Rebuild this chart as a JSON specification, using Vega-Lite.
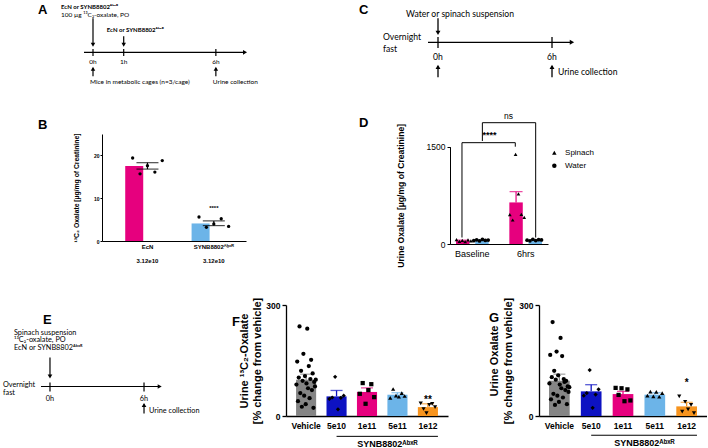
{
"$schema":"https://vega.github.io/schema/vega-lite/v6.json",
"background":"white",
"padding":{"left":2,"top":0,"right":0,"bottom":0},
"config":{
 "view":{"stroke":null},
 "font":"Liberation Sans",
 "axis":{"domainColor":"black","tickColor":"black","labelColor":"black","titleColor":"black","grid":false,"labelFont":"Liberation Sans","titleFont":"Liberation Sans"},
 "title":{"anchor":"start","frame":"group","fontSize":13,"fontWeight":"bold","font":"Liberation Sans","baseline":"alphabetic","color":"black"},
 "text":{"color":"black","font":"Liberation Sans"}
},
"datasets":{
 "A_line":[{"t":-0.2049,"t2":7.9}],
 "A_hours":[{"t":0,"hour":"0h"},{"t":1,"hour":"1h"},{"t":6,"hour":"6h"}],
 "A_doses":[{"t":0,"strain":"EcN or SYNB8802ᴬᵇˣᴿ","substrate":"100 µg ¹³C₂-oxalate, PO"},{"t":1,"strain":"EcN or SYNB8802ᴬᵇˣᴿ","substrate":""}],
 "A_events":[{"t":0,"event":"Mice in metabolic cages (n=3/cage)"},{"t":6,"event":"Urine collection"}],
 "C_line":[{"t":-0.5263,"t2":7.05}],
 "C_hours":[{"t":0,"hour":"0h"},{"t":6,"hour":"6h"}],
 "C_dose":[{"t":0,"dose":"Water or spinach suspension","before":"Overnight\nfast"}],
 "C_events":[{"t":0,"event":""},{"t":6,"event":"Urine collection"}],
 "E_line":[{"t":-0.574,"t2":7.0}],
 "E_hours":[{"t":0,"hour":"0h"},{"t":6,"hour":"6h"}],
 "E_dose":[{"t":0,"dose":"Spinach suspension\n¹³C₂-oxalate, PO\nEcN or SYNB8802ᴬᵇˣᴿ","before":"Overnight\nfast"}],
 "E_events":[{"t":6,"event":"Urine collection"}],
 "B_summary":[{"strain":"EcN","mean":17.5,"lower":16.8,"upper":18.3},{"strain":"SYNB8802ᴬᵇˣᴿ","mean":4.1,"lower":3.6,"upper":4.7}],
 "B_points":[
  {"strain":"EcN","mouse":1,"value":19.4},{"strain":"EcN","mouse":2,"value":15.7},{"strain":"EcN","mouse":3,"value":17.6},{"strain":"EcN","mouse":4,"value":16.1},{"strain":"EcN","mouse":5,"value":18.8},
  {"strain":"SYNB8802ᴬᵇˣᴿ","mouse":1,"value":5.6},{"strain":"SYNB8802ᴬᵇˣᴿ","mouse":2,"value":3.2},{"strain":"SYNB8802ᴬᵇˣᴿ","mouse":3,"value":4.0},{"strain":"SYNB8802ᴬᵇˣᴿ","mouse":4,"value":5.2},{"strain":"SYNB8802ᴬᵇˣᴿ","mouse":5,"value":3.4}],
 "B_sig":[{"strain":"SYNB8802ᴬᵇˣᴿ","label":"****"}],
 "D_summary":[{"time":"Baseline","treatment":"Spinach","mean":52,"upper":60},{"time":"Baseline","treatment":"Water","mean":58,"upper":62},{"time":"6hrs","treatment":"Spinach","mean":641,"upper":806},{"time":"6hrs","treatment":"Water","mean":60,"upper":64}],
 "D_points":[
  {"time":"Baseline","treatment":"Spinach","mouse":"S1","value":68},{"time":"Baseline","treatment":"Spinach","mouse":"S2","value":42},{"time":"Baseline","treatment":"Spinach","mouse":"S3","value":55},{"time":"Baseline","treatment":"Spinach","mouse":"S4","value":38},{"time":"Baseline","treatment":"Spinach","mouse":"S5","value":62},{"time":"Baseline","treatment":"Spinach","mouse":"S6","value":48},
  {"time":"Baseline","treatment":"Water","mouse":"W1","value":52},{"time":"Baseline","treatment":"Water","mouse":"W2","value":65},{"time":"Baseline","treatment":"Water","mouse":"W3","value":48},{"time":"Baseline","treatment":"Water","mouse":"W4","value":70},{"time":"Baseline","treatment":"Water","mouse":"W5","value":55},{"time":"Baseline","treatment":"Water","mouse":"W6","value":60},
  {"time":"6hrs","treatment":"Spinach","mouse":"S1","value":452},{"time":"6hrs","treatment":"Spinach","mouse":"S2","value":370},{"time":"6hrs","treatment":"Spinach","mouse":"S3","value":1383},{"time":"6hrs","treatment":"Spinach","mouse":"S4","value":771},{"time":"6hrs","treatment":"Spinach","mouse":"S5","value":458},{"time":"6hrs","treatment":"Spinach","mouse":"S6","value":411},
  {"time":"6hrs","treatment":"Water","mouse":"W1","value":58},{"time":"6hrs","treatment":"Water","mouse":"W2","value":49},{"time":"6hrs","treatment":"Water","mouse":"W3","value":72},{"time":"6hrs","treatment":"Water","mouse":"W4","value":53},{"time":"6hrs","treatment":"Water","mouse":"W5","value":66},{"time":"6hrs","treatment":"Water","mouse":"W6","value":62}],
 "D_star":[{"time":"Baseline","y":100,"k":1},{"time":"Baseline","y":1562,"k":2},{"time":"6hrs","y":1562,"k":3},{"time":"6hrs","y":1500,"k":4}],
 "D_ns":[{"time":"Baseline","y":1588,"k":1},{"time":"Baseline","y":1870,"k":2},{"time":"6hrs","y":1870,"k":3},{"time":"6hrs","y":100,"k":4}],
 "D_sig_star":[{"time":"Baseline","label":"****"}],
 "D_sig_ns":[{"time":"6hrs","label":"ns"}],
 "D_legend":[{"treatment":"Spinach"},{"treatment":"Water"}],
 "F_summary":[{"group":"Vehicle","mean":98,"upper":113},{"group":"5e10","mean":53,"upper":69},{"group":"1e11","mean":65,"upper":76},{"group":"5e11","mean":57.5,"upper":63},{"group":"1e12","mean":24,"upper":33}],
 "F_points":[
  {"group":"Vehicle","rep":1,"value":85},{"group":"Vehicle","rep":2,"value":147},{"group":"Vehicle","rep":3,"value":40},{"group":"Vehicle","rep":4,"value":104},{"group":"Vehicle","rep":5,"value":242},{"group":"Vehicle","rep":6,"value":62},{"group":"Vehicle","rep":7,"value":122},{"group":"Vehicle","rep":8,"value":25},{"group":"Vehicle","rep":9,"value":95},{"group":"Vehicle","rep":10,"value":168},{"group":"Vehicle","rep":11,"value":55},{"group":"Vehicle","rep":12,"value":108},{"group":"Vehicle","rep":13,"value":32},{"group":"Vehicle","rep":14,"value":88},{"group":"Vehicle","rep":15,"value":236},{"group":"Vehicle","rep":16,"value":75},{"group":"Vehicle","rep":17,"value":135},{"group":"Vehicle","rep":18,"value":48},{"group":"Vehicle","rep":19,"value":100},{"group":"Vehicle","rep":20,"value":152},{"group":"Vehicle","rep":21,"value":70},{"group":"Vehicle","rep":22,"value":115},{"group":"Vehicle","rep":23,"value":22},{"group":"Vehicle","rep":24,"value":92},{"group":"Vehicle","rep":25,"value":80},{"group":"Vehicle","rep":26,"value":98},
  {"group":"5e10","rep":1,"value":46},{"group":"5e10","rep":2,"value":50},{"group":"5e10","rep":3,"value":106},{"group":"5e10","rep":4,"value":18},{"group":"5e10","rep":5,"value":49},{"group":"5e10","rep":6,"value":55},
  {"group":"1e11","rep":1,"value":60},{"group":"1e11","rep":2,"value":89},{"group":"1e11","rep":3,"value":33},{"group":"1e11","rep":4,"value":70},{"group":"1e11","rep":5,"value":86},{"group":"1e11","rep":6,"value":51},
  {"group":"5e11","rep":1,"value":49},{"group":"5e11","rep":2,"value":73},{"group":"5e11","rep":3,"value":55},{"group":"5e11","rep":4,"value":52},{"group":"5e11","rep":5,"value":62},{"group":"5e11","rep":6,"value":54},
  {"group":"1e12","rep":1,"value":34},{"group":"1e12","rep":2,"value":19},{"group":"1e12","rep":3,"value":8},{"group":"1e12","rep":4,"value":30},{"group":"1e12","rep":5,"value":33},{"group":"1e12","rep":6,"value":24}],
 "F_sig":[{"group":"1e12","label":"**"}],
 "G_summary":[{"group":"Vehicle","mean":95.4,"upper":113},{"group":"5e10","mean":66.6,"upper":84.6},{"group":"1e11","mean":59.3,"upper":66.6},{"group":"5e11","mean":57.7,"upper":63},{"group":"1e12","mean":26,"upper":37}],
 "G_points":[
  {"group":"Vehicle","rep":1,"value":88},{"group":"Vehicle","rep":2,"value":165},{"group":"Vehicle","rep":3,"value":45},{"group":"Vehicle","rep":4,"value":105},{"group":"Vehicle","rep":5,"value":254},{"group":"Vehicle","rep":6,"value":60},{"group":"Vehicle","rep":7,"value":122},{"group":"Vehicle","rep":8,"value":30},{"group":"Vehicle","rep":9,"value":98},{"group":"Vehicle","rep":10,"value":174},{"group":"Vehicle","rep":11,"value":55},{"group":"Vehicle","rep":12,"value":110},{"group":"Vehicle","rep":13,"value":38},{"group":"Vehicle","rep":14,"value":85},{"group":"Vehicle","rep":15,"value":211},{"group":"Vehicle","rep":16,"value":75},{"group":"Vehicle","rep":17,"value":162},{"group":"Vehicle","rep":18,"value":50},{"group":"Vehicle","rep":19,"value":100},{"group":"Vehicle","rep":20,"value":92},{"group":"Vehicle","rep":21,"value":70},{"group":"Vehicle","rep":22,"value":95},{"group":"Vehicle","rep":23,"value":32},{"group":"Vehicle","rep":24,"value":80},{"group":"Vehicle","rep":25,"value":65},{"group":"Vehicle","rep":26,"value":78},
  {"group":"5e10","rep":1,"value":55},{"group":"5e10","rep":2,"value":62},{"group":"5e10","rep":3,"value":124},{"group":"5e10","rep":4,"value":22},{"group":"5e10","rep":5,"value":58},{"group":"5e10","rep":6,"value":72},
  {"group":"1e11","rep":1,"value":76},{"group":"1e11","rep":2,"value":57},{"group":"1e11","rep":3,"value":75},{"group":"1e11","rep":4,"value":40},{"group":"1e11","rep":5,"value":72},{"group":"1e11","rep":6,"value":42},
  {"group":"5e11","rep":1,"value":55},{"group":"5e11","rep":2,"value":66},{"group":"5e11","rep":3,"value":53},{"group":"5e11","rep":4,"value":65},{"group":"5e11","rep":5,"value":52},{"group":"5e11","rep":6,"value":62},
  {"group":"1e12","rep":1,"value":53},{"group":"1e12","rep":2,"value":12},{"group":"1e12","rep":3,"value":38},{"group":"1e12","rep":4,"value":18},{"group":"1e12","rep":5,"value":30},{"group":"1e12","rep":6,"value":8}],
 "G_sig":[{"group":"1e12","label":"*"}],
 "SYN":[{"label":"SYNB8802ᴬᵇˣᴿ"}]
},
"resolve":{"scale":{"color":"independent","shape":"independent","xOffset":"independent"},"legend":{"color":"independent","shape":"independent"}},
"vconcat":[
 {"resolve":{"scale":{"color":"independent","shape":"independent","xOffset":"independent"},"legend":{"color":"independent","shape":"independent"}},
  "vconcat":[
  {"resolve":{"scale":{"color":"independent","shape":"independent","xOffset":"independent"},"legend":{"color":"independent","shape":"independent"}},
   "hconcat":[
   {"title":{"text":"A","dx":-64,"offset":-17},
    "width":144,"height":90,
    "layer":[
     {"data":{"name":"A_line"},"mark":{"type":"rule","strokeWidth":1.2,"color":"black"},"encoding":{"x":{"field":"t","type":"quantitative","scale":{"type":"pow","exponent":0.774,"domain":[0.2049,7.966],"nice":false,"zero":false},"axis":null},"x2":{"field":"t2"},"y":{"datum":0,"type":"quantitative","scale":{"domain":[-37.7,52.3],"nice":false,"zero":false},"axis":null}}},
     {"data":{"name":"A_line"},"mark":{"type":"point","shape":"triangle-right","filled":true,"opacity":1,"size":22,"color":"black"},"encoding":{"x":{"field":"t2","type":"quantitative","scale":{"type":"pow","exponent":0.774,"domain":[0.2049,7.966],"nice":false,"zero":false},"axis":null},"y":{"datum":0,"type":"quantitative","scale":{"domain":[-37.7,52.3],"nice":false,"zero":false},"axis":null}}},
     {"data":{"name":"A_hours"},"mark":{"type":"rule","strokeWidth":1.2,"color":"black"},"encoding":{"x":{"field":"t","type":"quantitative","scale":{"type":"pow","exponent":0.774,"domain":[0.2049,7.966],"nice":false,"zero":false},"axis":null},"y":{"datum":3.3,"type":"quantitative","scale":{"domain":[-37.7,52.3],"nice":false,"zero":false},"axis":null},"y2":{"datum":-3.7}}},
     {"data":{"name":"A_hours"},"mark":{"type":"text","font":"Lato","fontSize":6.5,"align":"center","baseline":"middle"},"encoding":{"x":{"field":"t","type":"quantitative","scale":{"type":"pow","exponent":0.774,"domain":[0.2049,7.966],"nice":false,"zero":false},"axis":null},"y":{"datum":-10,"type":"quantitative","scale":{"domain":[-37.7,52.3],"nice":false,"zero":false},"axis":null},"text":{"field":"hour"}}},
     {"data":{"name":"A_doses"},"transform":[{"filter":"datum.t == 0"}],"mark":{"type":"text","font":"Lato","fontSize":6,"fontWeight":"bold","align":"left","baseline":"middle","dx":-32},"encoding":{"x":{"field":"t","type":"quantitative","scale":{"type":"pow","exponent":0.774,"domain":[0.2049,7.966],"nice":false,"zero":false},"axis":null},"y":{"datum":45.5,"type":"quantitative","scale":{"domain":[-37.7,52.3],"nice":false,"zero":false},"axis":null},"text":{"field":"strain"}}},
     {"data":{"name":"A_doses"},"transform":[{"filter":"datum.t == 0"}],"mark":{"type":"text","font":"Lato","fontSize":6.5,"align":"left","baseline":"middle","dx":-32},"encoding":{"x":{"field":"t","type":"quantitative","scale":{"type":"pow","exponent":0.774,"domain":[0.2049,7.966],"nice":false,"zero":false},"axis":null},"y":{"datum":37.5,"type":"quantitative","scale":{"domain":[-37.7,52.3],"nice":false,"zero":false},"axis":null},"text":{"field":"substrate"}}},
     {"data":{"name":"A_doses"},"transform":[{"filter":"datum.t == 1"}],"mark":{"type":"text","font":"Lato","fontSize":6,"fontWeight":"bold","align":"left","baseline":"middle","dx":-17},"encoding":{"x":{"field":"t","type":"quantitative","scale":{"type":"pow","exponent":0.774,"domain":[0.2049,7.966],"nice":false,"zero":false},"axis":null},"y":{"datum":22,"type":"quantitative","scale":{"domain":[-37.7,52.3],"nice":false,"zero":false},"axis":null},"text":{"field":"strain"}}},
     {"data":{"name":"A_doses"},"transform":[{"filter":"datum.t == 0"}],"mark":{"type":"rule","strokeWidth":1.2,"color":"black"},"encoding":{"x":{"field":"t","type":"quantitative","scale":{"type":"pow","exponent":0.774,"domain":[0.2049,7.966],"nice":false,"zero":false},"axis":null},"y":{"datum":34,"type":"quantitative","scale":{"domain":[-37.7,52.3],"nice":false,"zero":false},"axis":null},"y2":{"datum":8}}},
     {"data":{"name":"A_doses"},"transform":[{"filter":"datum.t == 1"}],"mark":{"type":"rule","strokeWidth":1.2,"color":"black"},"encoding":{"x":{"field":"t","type":"quantitative","scale":{"type":"pow","exponent":0.774,"domain":[0.2049,7.966],"nice":false,"zero":false},"axis":null},"y":{"datum":16,"type":"quantitative","scale":{"domain":[-37.7,52.3],"nice":false,"zero":false},"axis":null},"y2":{"datum":8}}},
     {"data":{"name":"A_doses"},"mark":{"type":"point","shape":"triangle-down","filled":true,"opacity":1,"size":20,"color":"black"},"encoding":{"x":{"field":"t","type":"quantitative","scale":{"type":"pow","exponent":0.774,"domain":[0.2049,7.966],"nice":false,"zero":false},"axis":null},"y":{"datum":7.5,"type":"quantitative","scale":{"domain":[-37.7,52.3],"nice":false,"zero":false},"axis":null}}},
     {"data":{"name":"A_events"},"mark":{"type":"rule","strokeWidth":1.2,"color":"black"},"encoding":{"x":{"field":"t","type":"quantitative","scale":{"type":"pow","exponent":0.774,"domain":[0.2049,7.966],"nice":false,"zero":false},"axis":null},"y":{"datum":-16,"type":"quantitative","scale":{"domain":[-37.7,52.3],"nice":false,"zero":false},"axis":null},"y2":{"datum":-24}}},
     {"data":{"name":"A_events"},"mark":{"type":"point","shape":"triangle-up","filled":true,"opacity":1,"size":20,"color":"black"},"encoding":{"x":{"field":"t","type":"quantitative","scale":{"type":"pow","exponent":0.774,"domain":[0.2049,7.966],"nice":false,"zero":false},"axis":null},"y":{"datum":-16.5,"type":"quantitative","scale":{"domain":[-37.7,52.3],"nice":false,"zero":false},"axis":null}}},
     {"data":{"name":"A_events"},"mark":{"type":"text","font":"Lato","fontSize":6.5,"align":"left","baseline":"middle","dx":-3},"encoding":{"x":{"field":"t","type":"quantitative","scale":{"type":"pow","exponent":0.774,"domain":[0.2049,7.966],"nice":false,"zero":false},"axis":null},"y":{"datum":-30,"type":"quantitative","scale":{"domain":[-37.7,52.3],"nice":false,"zero":false},"axis":null},"text":{"field":"event"}}}
    ]},
   {"title":{"text":"C","dx":-69,"offset":-17},
    "width":153,"height":90,
    "layer":[
     {"data":{"name":"C_line"},"mark":{"type":"rule","strokeWidth":1.3,"color":"black"},"encoding":{"x":{"field":"t","type":"quantitative","scale":{"domain":[-0.5263,7.526],"nice":false,"zero":false},"axis":null},"x2":{"field":"t2"},"y":{"datum":0,"type":"quantitative","scale":{"domain":[-47.7,42.3],"nice":false,"zero":false},"axis":null}}},
     {"data":{"name":"C_line"},"mark":{"type":"point","shape":"triangle-right","filled":true,"opacity":1,"size":26,"color":"black"},"encoding":{"x":{"field":"t2","type":"quantitative","scale":{"domain":[-0.5263,7.526],"nice":false,"zero":false},"axis":null},"y":{"datum":0,"type":"quantitative","scale":{"domain":[-47.7,42.3],"nice":false,"zero":false},"axis":null}}},
     {"data":{"name":"C_hours"},"mark":{"type":"rule","strokeWidth":1.3,"color":"black"},"encoding":{"x":{"field":"t","type":"quantitative","scale":{"domain":[-0.5263,7.526],"nice":false,"zero":false},"axis":null},"y":{"datum":5.3,"type":"quantitative","scale":{"domain":[-47.7,42.3],"nice":false,"zero":false},"axis":null},"y2":{"datum":-5.7}}},
     {"data":{"name":"C_hours"},"mark":{"type":"text","font":"Lato","fontSize":8.6,"align":"center","baseline":"middle"},"encoding":{"x":{"field":"t","type":"quantitative","scale":{"domain":[-0.5263,7.526],"nice":false,"zero":false},"axis":null},"y":{"datum":-15,"type":"quantitative","scale":{"domain":[-47.7,42.3],"nice":false,"zero":false},"axis":null},"text":{"field":"hour"}}},
     {"data":{"name":"C_dose"},"mark":{"type":"text","font":"Lato","fontSize":8.6,"align":"left","baseline":"middle","dx":-32},"encoding":{"x":{"field":"t","type":"quantitative","scale":{"domain":[-0.5263,7.526],"nice":false,"zero":false},"axis":null},"y":{"datum":28,"type":"quantitative","scale":{"domain":[-47.7,42.3],"nice":false,"zero":false},"axis":null},"text":{"field":"dose"}}},
     {"data":{"name":"C_dose"},"mark":{"type":"text","font":"Lato","fontSize":8.6,"align":"left","baseline":"alphabetic","lineBreak":"\n","lineHeight":12,"dx":-55},"encoding":{"x":{"field":"t","type":"quantitative","scale":{"domain":[-0.5263,7.526],"nice":false,"zero":false},"axis":null},"y":{"datum":2.8,"type":"quantitative","scale":{"domain":[-47.7,42.3],"nice":false,"zero":false},"axis":null},"text":{"field":"before"}}},
     {"data":{"name":"C_dose"},"mark":{"type":"rule","strokeWidth":1.3,"color":"black"},"encoding":{"x":{"field":"t","type":"quantitative","scale":{"domain":[-0.5263,7.526],"nice":false,"zero":false},"axis":null},"y":{"datum":24,"type":"quantitative","scale":{"domain":[-47.7,42.3],"nice":false,"zero":false},"axis":null},"y2":{"datum":10}}},
     {"data":{"name":"C_dose"},"mark":{"type":"point","shape":"triangle-down","filled":true,"opacity":1,"size":24,"color":"black"},"encoding":{"x":{"field":"t","type":"quantitative","scale":{"domain":[-0.5263,7.526],"nice":false,"zero":false},"axis":null},"y":{"datum":9.5,"type":"quantitative","scale":{"domain":[-47.7,42.3],"nice":false,"zero":false},"axis":null}}},
     {"data":{"name":"C_events"},"mark":{"type":"rule","strokeWidth":1.3,"color":"black"},"encoding":{"x":{"field":"t","type":"quantitative","scale":{"domain":[-0.5263,7.526],"nice":false,"zero":false},"axis":null},"y":{"datum":-24,"type":"quantitative","scale":{"domain":[-47.7,42.3],"nice":false,"zero":false},"axis":null},"y2":{"datum":-35}}},
     {"data":{"name":"C_events"},"mark":{"type":"point","shape":"triangle-up","filled":true,"opacity":1,"size":24,"color":"black"},"encoding":{"x":{"field":"t","type":"quantitative","scale":{"domain":[-0.5263,7.526],"nice":false,"zero":false},"axis":null},"y":{"datum":-24.5,"type":"quantitative","scale":{"domain":[-47.7,42.3],"nice":false,"zero":false},"axis":null}}},
     {"data":{"name":"C_events"},"mark":{"type":"text","font":"Lato","fontSize":8.6,"align":"left","baseline":"middle","dx":6},"encoding":{"x":{"field":"t","type":"quantitative","scale":{"domain":[-0.5263,7.526],"nice":false,"zero":false},"axis":null},"y":{"datum":-30,"type":"quantitative","scale":{"domain":[-47.7,42.3],"nice":false,"zero":false},"axis":null},"text":{"field":"event"}}}
    ]}
  ],"spacing":182,"bounds":"flush"},
  {"resolve":{"scale":{"color":"independent","shape":"independent","xOffset":"independent"},"legend":{"color":"independent","shape":"independent"}},
   "hconcat":[
   {"title":{"text":"B","dx":-64,"offset":1},
    "width":144,"height":107,
    "layer":[
     {"data":{"name":"B_summary"},"mark":{"type":"bar"},"encoding":{
       "x":{"field":"strain","type":"nominal","sort":null,"scale":{"domain":["EcN","SYNB8802ᴬᵇˣᴿ"],"paddingInner":0.33,"paddingOuter":0.25,"align":0.7},"axis":{"title":null,"labelAngle":0,"ticks":false,"labelFontSize":6,"labelFontWeight":"bold","labelPadding":2,"labelLineHeight":14,"labelExpr":"[datum.label, '3.12e10']","domainWidth":1}},
       "y":{"field":"mean","type":"quantitative","scale":{"domain":[0,25],"nice":false},"axis":{"values":[0,5,10,15,20,25],"title":"¹³C₂ Oxalate [µg/mg of Creatinine]","titleFontSize":6.8,"titleFontWeight":"bold","titlePadding":14,"labelFontSize":5,"labelFontWeight":"bold","labelPadding":1,"tickSize":2,"domainWidth":1}},
       "color":{"field":"strain","type":"nominal","scale":{"domain":["EcN","SYNB8802ᴬᵇˣᴿ"],"range":["#E6007E","#6CB4E8"]},"legend":null}}},
     {"data":{"name":"B_summary"},"mark":{"type":"rule","strokeWidth":1.2,"color":"black"},"encoding":{"x":{"field":"strain","type":"nominal"},"y":{"field":"lower","type":"quantitative","scale":{"domain":[0,25],"nice":false}},"y2":{"field":"upper"}}},
     {"data":{"name":"B_summary"},"mark":{"type":"tick","size":22,"thickness":1.2,"color":"black"},"encoding":{"x":{"field":"strain","type":"nominal"},"y":{"field":"upper","type":"quantitative","scale":{"domain":[0,25],"nice":false}}}},
     {"data":{"name":"B_summary"},"mark":{"type":"tick","size":22,"thickness":1.2,"color":"black"},"encoding":{"x":{"field":"strain","type":"nominal"},"y":{"field":"lower","type":"quantitative","scale":{"domain":[0,25],"nice":false}}}},
     {"data":{"name":"B_points"},"mark":{"type":"point","shape":"circle","filled":true,"opacity":1,"size":11,"color":"black"},"encoding":{"x":{"field":"strain","type":"nominal"},"xOffset":{"field":"mouse","type":"ordinal","scale":{"paddingOuter":4.9}},"y":{"field":"value","type":"quantitative","scale":{"domain":[0,25],"nice":false}}}},
     {"data":{"name":"B_sig"},"mark":{"type":"text","fontSize":6,"fontWeight":"bold","baseline":"middle"},"encoding":{"x":{"field":"strain","type":"nominal"},"y":{"datum":7.6,"type":"quantitative","scale":{"domain":[0,25],"nice":false}},"text":{"field":"label"}}}
    ]},
   {"title":{"text":"D","dx":-91,"offset":-18},
    "width":98,"height":110,
    "resolve":{"scale":{"xOffset":"independent"}},
    "layer":[
     {"data":{"name":"D_summary"},"mark":{"type":"bar"},"encoding":{
       "x":{"field":"time","type":"nominal","sort":null,"scale":{"domain":["Baseline","6hrs"],"paddingInner":0.352,"paddingOuter":0.095},"axis":{"title":null,"labelAngle":0,"ticks":false,"labelFontSize":9,"labelPadding":5,"domainWidth":1}},
       "xOffset":{"field":"treatment","type":"nominal","scale":{"domain":["Spinach","Water"],"paddingInner":0.3,"paddingOuter":0.05}},
       "y":{"field":"mean","type":"quantitative","scale":{"domain":[0,1500],"range":[110,12.7],"nice":false},"axis":{"values":[0,500,1000,1500],"format":"d","title":"Urine Oxalate [µg/mg of Creatinine]","titleFontSize":8.6,"titleFontWeight":"bold","titlePadding":21,"labelFontSize":8.5,"labelPadding":2,"tickSize":3,"domainWidth":1}},
       "color":{"field":"treatment","type":"nominal","scale":{"domain":["Spinach","Water"],"range":["#E6007E","#6CB4E8"]},"legend":null}}},
     {"data":{"name":"D_summary"},"mark":{"type":"rule","strokeWidth":1.2},"encoding":{"x":{"field":"time","type":"nominal"},"xOffset":{"field":"treatment","type":"nominal","scale":{"domain":["Spinach","Water"],"paddingInner":0.3,"paddingOuter":0.05}},"y":{"field":"mean","type":"quantitative","scale":{"domain":[0,1500],"range":[110,12.7],"nice":false}},"y2":{"field":"upper"},"color":{"field":"treatment","type":"nominal","legend":null}}},
     {"data":{"name":"D_summary"},"mark":{"type":"tick","size":13,"thickness":1.2},"encoding":{"x":{"field":"time","type":"nominal"},"xOffset":{"field":"treatment","type":"nominal","scale":{"domain":["Spinach","Water"],"paddingInner":0.3,"paddingOuter":0.05}},"y":{"field":"upper","type":"quantitative","scale":{"domain":[0,1500],"range":[110,12.7],"nice":false}},"color":{"field":"treatment","type":"nominal","legend":null}}},
     {"data":{"name":"D_points"},"mark":{"type":"point","filled":true,"opacity":1,"size":14,"color":"black"},"encoding":{"x":{"field":"time","type":"nominal"},"xOffset":{"field":"mouse","type":"nominal"},"y":{"field":"value","type":"quantitative","scale":{"domain":[0,1500],"range":[110,12.7],"nice":false}},"shape":{"field":"treatment","type":"nominal","scale":{"domain":["Spinach","Water"],"range":["triangle-up","circle"]},"legend":null}}},
     {"data":{"name":"D_legend"},"transform":[{"filter":"datum.treatment == 'Spinach'"}],"mark":{"type":"point","filled":true,"opacity":1,"size":20,"color":"black"},"encoding":{"x":{"datum":"6hrs","type":"nominal","bandPosition":1.33},"y":{"datum":1407,"type":"quantitative","scale":{"domain":[0,1500],"range":[110,12.7],"nice":false}},"shape":{"field":"treatment","type":"nominal","legend":null}}},
     {"data":{"name":"D_legend"},"transform":[{"filter":"datum.treatment == 'Water'"}],"mark":{"type":"point","filled":true,"opacity":1,"size":20,"color":"black"},"encoding":{"x":{"datum":"6hrs","type":"nominal","bandPosition":1.33},"y":{"datum":1207,"type":"quantitative","scale":{"domain":[0,1500],"range":[110,12.7],"nice":false}},"shape":{"field":"treatment","type":"nominal","legend":null}}},
     {"data":{"name":"D_legend"},"transform":[{"filter":"datum.treatment == 'Spinach'"}],"mark":{"type":"text","fontSize":8,"align":"left","baseline":"middle"},"encoding":{"x":{"datum":"6hrs","type":"nominal","bandPosition":1.64},"y":{"datum":1407,"type":"quantitative","scale":{"domain":[0,1500],"range":[110,12.7],"nice":false}},"text":{"field":"treatment"}}},
     {"data":{"name":"D_legend"},"transform":[{"filter":"datum.treatment == 'Water'"}],"mark":{"type":"text","fontSize":8,"align":"left","baseline":"middle"},"encoding":{"x":{"datum":"6hrs","type":"nominal","bandPosition":1.64},"y":{"datum":1207,"type":"quantitative","scale":{"domain":[0,1500],"range":[110,12.7],"nice":false}},"text":{"field":"treatment"}}},
     {"data":{"name":"D_star"},"mark":{"type":"line","strokeWidth":1,"color":"black"},"encoding":{"x":{"field":"time","type":"nominal","bandPosition":0.2},"y":{"field":"y","type":"quantitative","scale":{"domain":[0,1500],"range":[110,12.7],"nice":false}},"order":{"field":"k"}}},
     {"data":{"name":"D_ns"},"mark":{"type":"line","strokeWidth":1,"color":"black"},"encoding":{"x":{"field":"time","type":"nominal","bandPosition":0.79},"y":{"field":"y","type":"quantitative","scale":{"domain":[0,1500],"range":[110,12.7],"nice":false}},"order":{"field":"k"}}},
     {"data":{"name":"D_sig_star"},"mark":{"type":"text","fontSize":9,"fontWeight":"bold","baseline":"middle"},"encoding":{"x":{"field":"time","type":"nominal","bandPosition":1},"y":{"datum":1680,"type":"quantitative","scale":{"domain":[0,1500],"range":[110,12.7],"nice":false}},"text":{"field":"label"}}},
     {"data":{"name":"D_sig_ns"},"mark":{"type":"text","fontSize":8.5,"baseline":"middle"},"encoding":{"x":{"field":"time","type":"nominal","bandPosition":0},"y":{"datum":1973,"type":"quantitative","scale":{"domain":[0,1500],"range":[110,12.7],"nice":false}},"text":{"field":"label"}}}
    ]}
  ],"spacing":204,"bounds":"flush"}
 ],"spacing":22},
 {"resolve":{"scale":{"color":"independent","shape":"independent","xOffset":"independent"},"legend":{"color":"independent","shape":"independent"}},
  "hconcat":[
  {"title":{"text":"E","dx":-59,"offset":-22},
   "width":93,"height":111,
   "layer":[
    {"data":{"name":"E_line"},"mark":{"type":"rule","strokeWidth":1.2,"color":"black"},"encoding":{"x":{"field":"t","type":"quantitative","scale":{"domain":[3.319,9.253],"nice":false,"zero":false},"axis":null},"x2":{"field":"t2"},"y":{"datum":0,"type":"quantitative","scale":{"domain":[-29.5,81.5],"nice":false,"zero":false},"axis":null}}},
    {"data":{"name":"E_line"},"mark":{"type":"point","shape":"triangle-right","filled":true,"opacity":1,"size":22,"color":"black"},"encoding":{"x":{"field":"t2","type":"quantitative","scale":{"domain":[3.319,9.253],"nice":false,"zero":false},"axis":null},"y":{"datum":0,"type":"quantitative","scale":{"domain":[-29.5,81.5],"nice":false,"zero":false},"axis":null}}},
    {"data":{"name":"E_hours"},"mark":{"type":"rule","strokeWidth":1.2,"color":"black"},"encoding":{"x":{"field":"t","type":"quantitative","scale":{"domain":[3.319,9.253],"nice":false,"zero":false},"axis":null},"y":{"datum":4,"type":"quantitative","scale":{"domain":[-29.5,81.5],"nice":false,"zero":false},"axis":null},"y2":{"datum":-5}}},
    {"data":{"name":"E_hours"},"mark":{"type":"text","font":"Lato","fontSize":7.3,"align":"center","baseline":"middle"},"encoding":{"x":{"field":"t","type":"quantitative","scale":{"domain":[3.319,9.253],"nice":false,"zero":false},"axis":null},"y":{"datum":-12,"type":"quantitative","scale":{"domain":[-29.5,81.5],"nice":false,"zero":false},"axis":null},"text":{"field":"hour"}}},
    {"data":{"name":"E_dose"},"mark":{"type":"text","font":"Lato","fontSize":7.3,"align":"left","baseline":"alphabetic","lineBreak":"\n","lineHeight":7.7,"dx":-36},"encoding":{"x":{"field":"t","type":"quantitative","scale":{"domain":[3.319,9.253],"nice":false,"zero":false},"axis":null},"y":{"datum":52,"type":"quantitative","scale":{"domain":[-29.5,81.5],"nice":false,"zero":false},"axis":null},"text":{"field":"dose"}}},
    {"data":{"name":"E_dose"},"mark":{"type":"text","font":"Lato","fontSize":7.3,"align":"left","baseline":"alphabetic","lineBreak":"\n","lineHeight":8,"dx":-47},"encoding":{"x":{"field":"t","type":"quantitative","scale":{"domain":[3.319,9.253],"nice":false,"zero":false},"axis":null},"y":{"datum":-0.5,"type":"quantitative","scale":{"domain":[-29.5,81.5],"nice":false,"zero":false},"axis":null},"text":{"field":"before"}}},
    {"data":{"name":"E_dose"},"mark":{"type":"rule","strokeWidth":1.2,"color":"black"},"encoding":{"x":{"field":"t","type":"quantitative","scale":{"domain":[3.319,9.253],"nice":false,"zero":false},"axis":null},"y":{"datum":29,"type":"quantitative","scale":{"domain":[-29.5,81.5],"nice":false,"zero":false},"axis":null},"y2":{"datum":10.5}}},
    {"data":{"name":"E_dose"},"mark":{"type":"point","shape":"triangle-down","filled":true,"opacity":1,"size":22,"color":"black"},"encoding":{"x":{"field":"t","type":"quantitative","scale":{"domain":[3.319,9.253],"nice":false,"zero":false},"axis":null},"y":{"datum":10,"type":"quantitative","scale":{"domain":[-29.5,81.5],"nice":false,"zero":false},"axis":null}}},
    {"data":{"name":"E_events"},"mark":{"type":"rule","strokeWidth":1.2,"color":"black"},"encoding":{"x":{"field":"t","type":"quantitative","scale":{"domain":[3.319,9.253],"nice":false,"zero":false},"axis":null},"y":{"datum":-18,"type":"quantitative","scale":{"domain":[-29.5,81.5],"nice":false,"zero":false},"axis":null},"y2":{"datum":-27}}},
    {"data":{"name":"E_events"},"mark":{"type":"point","shape":"triangle-up","filled":true,"opacity":1,"size":22,"color":"black"},"encoding":{"x":{"field":"t","type":"quantitative","scale":{"domain":[3.319,9.253],"nice":false,"zero":false},"axis":null},"y":{"datum":-18.5,"type":"quantitative","scale":{"domain":[-29.5,81.5],"nice":false,"zero":false},"axis":null}}},
    {"data":{"name":"E_events"},"mark":{"type":"text","font":"Lato","fontSize":7.3,"align":"left","baseline":"middle","dx":5},"encoding":{"x":{"field":"t","type":"quantitative","scale":{"domain":[3.319,9.253],"nice":false,"zero":false},"axis":null},"y":{"datum":-24,"type":"quantitative","scale":{"domain":[-29.5,81.5],"nice":false,"zero":false},"axis":null},"text":{"field":"event"}}}
   ]},
  {"title":{"text":"F","dx":-54,"offset":-32},
   "width":162,"height":111,
   "resolve":{"scale":{"xOffset":"independent"}},
   "layer":[
    {"data":{"name":"F_summary"},"mark":{"type":"bar"},"encoding":{
      "x":{"field":"group","type":"nominal","sort":null,"scale":{"domain":["Vehicle","5e10","1e11","5e11","1e12"],"paddingInner":0.34,"paddingOuter":0.33},"axis":{"title":null,"labelAngle":0,"ticks":false,"labelFontSize":8.5,"labelFontWeight":"bold","labelPadding":5,"domainWidth":1.3}},
      "y":{"field":"mean","type":"quantitative","scale":{"domain":[0,300],"nice":false},"axis":{"values":[0,100,200,300],"title":["Urine ¹³C₂-Oxalate","[% change from vehicle]"],"titleFontSize":11,"titleFontWeight":"bold","titleLineHeight":13.7,"titlePadding":3,"labelFontSize":8.5,"labelFontWeight":"bold","labelPadding":2,"tickSize":4,"tickWidth":1.3,"domainWidth":1.3}},
      "color":{"field":"group","type":"nominal","scale":{"domain":["Vehicle","5e10","1e11","5e11","1e12"],"range":["#858585","#0D12C2","#E6007E","#6CB4E8","#F7941E"]},"legend":null}}},
    {"data":{"name":"F_summary"},"mark":{"type":"rule","strokeWidth":1.3},"encoding":{"x":{"field":"group","type":"nominal"},"y":{"field":"mean","type":"quantitative","scale":{"domain":[0,300],"nice":false}},"y2":{"field":"upper"},"color":{"field":"group","type":"nominal","legend":null}}},
    {"data":{"name":"F_summary"},"mark":{"type":"tick","size":12,"thickness":1.3},"encoding":{"x":{"field":"group","type":"nominal"},"y":{"field":"upper","type":"quantitative","scale":{"domain":[0,300],"nice":false}},"color":{"field":"group","type":"nominal","legend":null}}},
    {"data":{"name":"F_points"},"transform":[{"filter":"datum.group == 'Vehicle'"}],"mark":{"type":"point","filled":true,"opacity":1,"size":18,"color":"black"},"encoding":{"x":{"field":"group","type":"nominal"},"xOffset":{"field":"rep","type":"ordinal","scale":{"paddingOuter":0.5}},"y":{"field":"value","type":"quantitative","scale":{"domain":[0,300],"nice":false}},"shape":{"field":"group","type":"nominal","scale":{"domain":["Vehicle","5e10","1e11","5e11","1e12"],"range":["circle","diamond","square","triangle-up","triangle-down"]},"legend":null}}},
    {"data":{"name":"F_points"},"transform":[{"filter":"datum.group != 'Vehicle'"}],"mark":{"type":"point","filled":true,"opacity":1,"size":18,"color":"black"},"encoding":{"x":{"field":"group","type":"nominal"},"xOffset":{"field":"rep","type":"ordinal","scale":{"paddingOuter":1}},"y":{"field":"value","type":"quantitative","scale":{"domain":[0,300],"nice":false}},"shape":{"field":"group","type":"nominal","legend":null}}},
    {"data":{"name":"F_sig"},"mark":{"type":"text","fontSize":10,"fontWeight":"bold","baseline":"middle"},"encoding":{"x":{"field":"group","type":"nominal"},"y":{"datum":44,"type":"quantitative","scale":{"domain":[0,300],"nice":false}},"text":{"field":"label"}}},
    {"data":{"name":"SYN"},"mark":{"type":"rule","strokeWidth":1,"color":"black"},"encoding":{"x":{"datum":"5e10","type":"nominal"},"x2":{"datum":"1e12","bandPosition":1},"y":{"datum":-55,"type":"quantitative","scale":{"domain":[0,300],"nice":false}}}},
    {"data":{"name":"SYN"},"mark":{"type":"text","fontSize":9,"fontWeight":"bold","baseline":"middle"},"encoding":{"x":{"datum":"5e11","type":"nominal","bandPosition":0},"y":{"datum":-75,"type":"quantitative","scale":{"domain":[0,300],"nice":false}},"text":{"field":"label"}}}
   ]},
  {"title":{"text":"G","dx":-50,"offset":-28},
   "width":168,"height":111,
   "resolve":{"scale":{"xOffset":"independent"}},
   "layer":[
    {"data":{"name":"G_summary"},"mark":{"type":"bar"},"encoding":{
      "x":{"field":"group","type":"nominal","sort":null,"scale":{"domain":["Vehicle","5e10","1e11","5e11","1e12"],"paddingInner":0.35,"paddingOuter":0.315},"axis":{"title":null,"labelAngle":0,"ticks":false,"labelFontSize":8.5,"labelFontWeight":"bold","labelPadding":5,"domainWidth":1.3}},
      "y":{"field":"mean","type":"quantitative","scale":{"domain":[0,300],"nice":false},"axis":{"values":[0,100,200,300],"title":["Urine Oxalate","[% change from vehicle]"],"titleFontSize":11,"titleFontWeight":"bold","titleLineHeight":14.5,"titlePadding":5,"labelFontSize":8.5,"labelFontWeight":"bold","labelPadding":2,"tickSize":4,"tickWidth":1.3,"domainWidth":1.3}},
      "color":{"field":"group","type":"nominal","scale":{"domain":["Vehicle","5e10","1e11","5e11","1e12"],"range":["#858585","#0D12C2","#E6007E","#6CB4E8","#F7941E"]},"legend":null}}},
    {"data":{"name":"G_summary"},"mark":{"type":"rule","strokeWidth":1.3},"encoding":{"x":{"field":"group","type":"nominal"},"y":{"field":"mean","type":"quantitative","scale":{"domain":[0,300],"nice":false}},"y2":{"field":"upper"},"color":{"field":"group","type":"nominal","legend":null}}},
    {"data":{"name":"G_summary"},"mark":{"type":"tick","size":12,"thickness":1.3},"encoding":{"x":{"field":"group","type":"nominal"},"y":{"field":"upper","type":"quantitative","scale":{"domain":[0,300],"nice":false}},"color":{"field":"group","type":"nominal","legend":null}}},
    {"data":{"name":"G_points"},"transform":[{"filter":"datum.group == 'Vehicle'"}],"mark":{"type":"point","filled":true,"opacity":1,"size":18,"color":"black"},"encoding":{"x":{"field":"group","type":"nominal"},"xOffset":{"field":"rep","type":"ordinal","scale":{"paddingOuter":0.5}},"y":{"field":"value","type":"quantitative","scale":{"domain":[0,300],"nice":false}},"shape":{"field":"group","type":"nominal","scale":{"domain":["Vehicle","5e10","1e11","5e11","1e12"],"range":["circle","diamond","square","triangle-up","triangle-down"]},"legend":null}}},
    {"data":{"name":"G_points"},"transform":[{"filter":"datum.group != 'Vehicle'"}],"mark":{"type":"point","filled":true,"opacity":1,"size":18,"color":"black"},"encoding":{"x":{"field":"group","type":"nominal"},"xOffset":{"field":"rep","type":"ordinal","scale":{"paddingOuter":1}},"y":{"field":"value","type":"quantitative","scale":{"domain":[0,300],"nice":false}},"shape":{"field":"group","type":"nominal","legend":null}}},
    {"data":{"name":"G_sig"},"mark":{"type":"text","fontSize":10,"fontWeight":"bold","baseline":"middle"},"encoding":{"x":{"field":"group","type":"nominal"},"y":{"datum":90,"type":"quantitative","scale":{"domain":[0,300],"nice":false}},"text":{"field":"label"}}},
    {"data":{"name":"SYN"},"mark":{"type":"rule","strokeWidth":1,"color":"black"},"encoding":{"x":{"datum":"5e10","type":"nominal"},"x2":{"datum":"1e12","bandPosition":1},"y":{"datum":-52,"type":"quantitative","scale":{"domain":[0,300],"nice":false}}}},
    {"data":{"name":"SYN"},"mark":{"type":"text","fontSize":9,"fontWeight":"bold","baseline":"middle"},"encoding":{"x":{"datum":"5e11","type":"nominal","bandPosition":0},"y":{"datum":-73,"type":"quantitative","scale":{"domain":[0,300],"nice":false}},"text":{"field":"label"}}}
   ]}
 ],"spacing":91,"bounds":"flush"}
],
"spacing":29
}
